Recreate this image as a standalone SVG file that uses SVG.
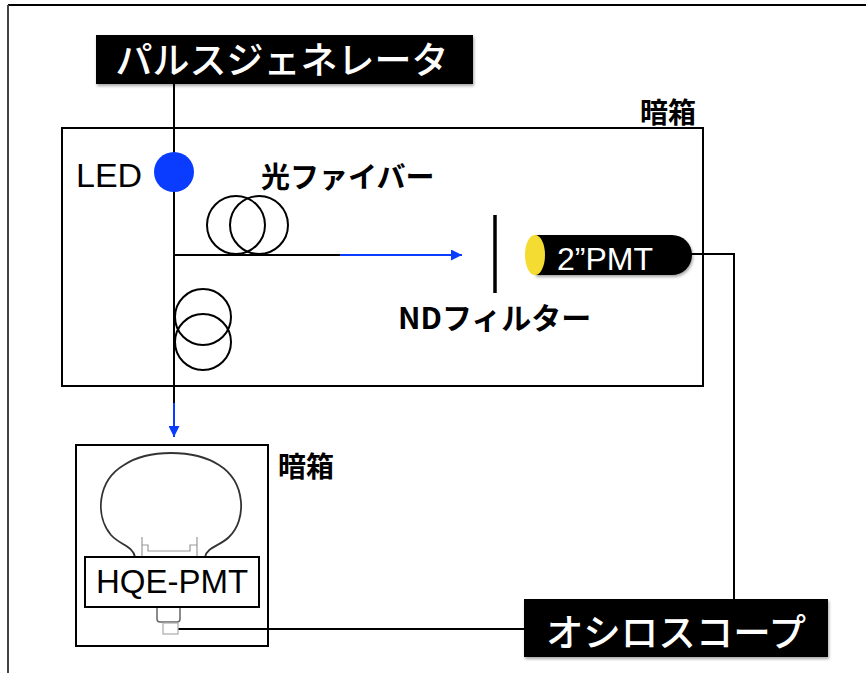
<svg xmlns="http://www.w3.org/2000/svg" width="866" height="673" viewBox="0 0 866 673">
  <defs>
    <style>
      .ln { fill: none; stroke: #000; stroke-width: 2; }
      .blue { fill: none; stroke: #0a3cff; stroke-width: 2; }
      .box { fill: #fff; stroke: #000; stroke-width: 2; }
      .jp { font-family: "Noto Sans CJK JP", "Noto Sans", sans-serif; }
      .bold { font-weight: bold; }
      .lat { font-family: "Liberation Sans", Arial, sans-serif; }
      .white { fill: #fff; }
      .coil { fill: none; stroke: #000; stroke-width: 2; }
      .thin { fill: none; stroke: #999; stroke-width: 1.2; }
    </style>
    <marker id="arrowBlue" viewBox="0 0 10 10" refX="10" refY="5" markerWidth="11" markerHeight="11" markerUnits="userSpaceOnUse" orient="auto">
      <path d="M0,0 L10,5 L0,10 z" fill="#0a3cff"/>
    </marker>
    <filter id="shadow" x="-10%" y="-20%" width="120%" height="150%">
      <feDropShadow dx="1" dy="2" stdDeviation="1.5" flood-color="#000" flood-opacity="0.35"/>
    </filter>
  </defs>

  <rect x="0" y="0" width="866" height="673" fill="#fff"/>

  <!-- page frame -->
  <g id="frame">
    <line x1="8" y1="5" x2="866" y2="5" stroke="#000" stroke-width="2"/>
    <line x1="8" y1="5" x2="8" y2="673" stroke="#444" stroke-width="2"/>
  </g>

  <!-- upper dark box -->
  <g id="darkbox-upper">
    <rect class="box" x="62" y="128" width="641" height="258"/>
    <text class="jp bold" x="668" y="123" font-size="28" text-anchor="middle">暗箱</text>
  </g>

  <!-- lower dark box -->
  <g id="darkbox-lower">
    <rect class="box" x="76" y="445" width="192" height="201"/>
    <text class="jp bold" x="306" y="477" font-size="28" text-anchor="middle">暗箱</text>
  </g>

  <!-- connectors -->
  <g id="connectors">
    <!-- pulse generator to LED and onward -->
    <line class="ln" x1="174" y1="84" x2="174" y2="160"/>
    <line class="ln" x1="174" y1="185" x2="174" y2="404"/>
    <line class="blue" x1="174" y1="403" x2="174" y2="437" marker-end="url(#arrowBlue)"/>
    <!-- fiber towards the ND filter -->
    <line class="ln" x1="174" y1="255" x2="373" y2="255"/>
    <line class="blue" x1="340" y1="255" x2="462" y2="255" marker-end="url(#arrowBlue)"/>
    <!-- 2"PMT signal to oscilloscope -->
    <polyline class="ln" points="690,254 734,254 734,599"/>
    <!-- HQE-PMT signal to oscilloscope -->
    <line class="ln" x1="178" y1="629" x2="524" y2="629"/>
  </g>

  <!-- pulse generator -->
  <g id="pulse-generator">
    <rect x="96" y="35" width="377" height="49" fill="#000" filter="url(#shadow)"/>
    <text class="jp white" x="282" y="74" font-size="37" font-weight="500" text-anchor="middle">パルスジェネレータ</text>
  </g>

  <!-- LED -->
  <g id="led">
    <circle cx="174" cy="172" r="20" fill="#0a3cff"/>
    <text class="lat" x="76" y="187" font-size="34">LED</text>
  </g>

  <!-- fiber coils -->
  <g id="fiber">
    <circle class="coil" cx="236" cy="225" r="29"/>
    <circle class="coil" cx="259" cy="225" r="29"/>
    <circle class="coil" cx="203" cy="317" r="28"/>
    <circle class="coil" cx="203" cy="342" r="28"/>
    <text class="jp bold" x="261" y="188" font-size="29">光ファイバー</text>
  </g>

  <!-- ND filter -->
  <g id="nd-filter">
    <line x1="495" y1="215" x2="495" y2="293" stroke="#000" stroke-width="3.5"/>
    <text class="jp bold" x="398" y="329" font-size="30">NDフィルター</text>
  </g>

  <!-- 2" PMT -->
  <g id="pmt2">
    <path d="M535,235 H672 A20,20 0 0 1 672,275 H535 Z" fill="#000" filter="url(#shadow)"/>
    <ellipse cx="535" cy="255" rx="10" ry="20" fill="#f5dc32"/>
    <text class="lat white" x="557" y="270" font-size="32">2”PMT</text>
  </g>

  <!-- HQE-PMT -->
  <g id="hqe-pmt">
    <path d="M135,557 C133,546 120,545 111,535 C95,516 97,481 124,465 C148,449 194,449 219,465 C246,482 247,520 229,537 C220,546 207,547 205,557" fill="none" stroke="#333" stroke-width="1.8"/>
    <path d="M142,556 V537 M197,556 V537 M142,545 H148 V551 H190 V545 H197" class="thin"/>
    <path d="M157,607 V619 Q157,622 160,622 H177 Q180,622 180,619 V607" fill="none" stroke="#666" stroke-width="1.5"/>
    <rect x="163" y="623" width="15" height="11" fill="none" stroke="#aaa" stroke-width="1.2"/>
    <rect class="box" x="85" y="557" width="174" height="50"/>
    <text class="lat" x="172" y="593" font-size="33" text-anchor="middle">HQE-PMT</text>
  </g>

  <!-- oscilloscope -->
  <g id="oscilloscope">
    <rect x="524" y="599" width="304" height="58" fill="#000" filter="url(#shadow)"/>
    <text class="jp white" x="676" y="646" font-size="37.5" font-weight="500" text-anchor="middle">オシロスコープ</text>
  </g>
</svg>
